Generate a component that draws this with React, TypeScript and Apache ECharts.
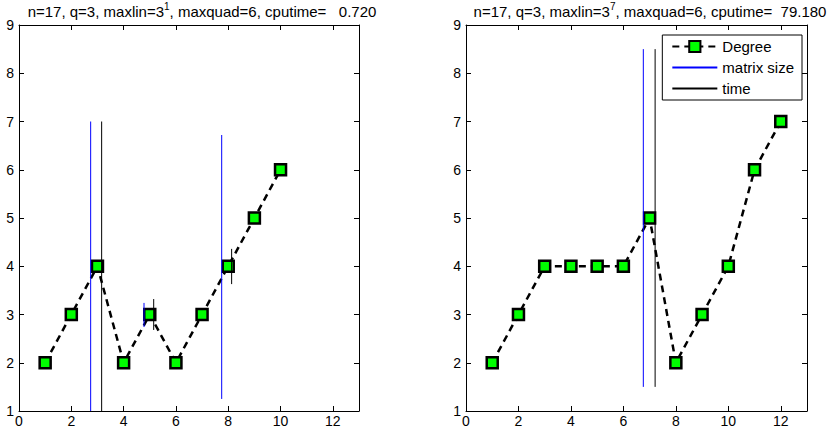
import React, { useEffect, useRef } from "react";
import * as echarts from "echarts";

const leftX = [1, 2, 3, 4, 5, 6, 7, 8, 9, 10];
const leftDegree = [2, 3, 4, 2, 3, 2, 3, 4, 5, 6];
const rightX = [1, 2, 3, 4, 5, 6, 7, 8, 9, 10, 11, 12];
const rightDegree = [2, 3, 4, 4, 4, 4, 5, 2, 3, 4, 6, 7];

// vertical segments: [x, yFrom, yTo]
const leftMatrixSize = [
  [2.74, 1, 7],
  [4.78, 2.74, 3.24],
  [7.75, 1.25, 6.72],
];
const leftTime = [
  [3.16, 1, 7],
  [5.15, 2.68, 3.32],
  [8.13, 3.63, 4.36],
];
const rightMatrixSize = [[6.76, 1.5, 8.5]];
const rightTime = [[7.21, 1.5, 8.5]];

const xTicks = { min: 0, max: 13, interval: 2 };
const yTicks = { min: 1, max: 9, interval: 1 };

const FONT = "'Liberation Sans', Arial, Helvetica, sans-serif";

export default function App() {
  const ref = useRef<HTMLDivElement>(null);
  useEffect(() => {
    if (!ref.current) return;
    const chart = echarts.init(ref.current, undefined, { renderer: "svg" });

    const grids = [
      { left: 19, right: 473, top: 25, bottom: 25 },
      { left: 466, right: 25, top: 25, bottom: 25 },
    ];

    const xAxes: any[] = [];
    const yAxes: any[] = [];
    [0, 1].forEach((g) => {
      ["bottom", "top"].forEach((pos) => {
        xAxes.push({
          type: "value",
          gridIndex: g,
          position: pos,
          ...xTicks,
          axisLine: { show: true, onZero: false, lineStyle: { color: "#000", width: 1 } },
          axisTick: { show: true, inside: true, length: 5, lineStyle: { color: "#000" } },
          axisLabel: {
            show: pos === "bottom",
            color: "#000",
            fontSize: 14,
            fontFamily: FONT,
            margin: 3,
            showMaxLabel: false,
          },
          splitLine: { show: false },
        });
      });
      ["left", "right"].forEach((pos) => {
        yAxes.push({
          type: "value",
          gridIndex: g,
          position: pos,
          ...yTicks,
          axisLine: { show: true, onZero: false, lineStyle: { color: "#000", width: 1 } },
          axisTick: { show: true, inside: true, length: 5, lineStyle: { color: "#000" } },
          axisLabel: {
            show: pos === "left",
            color: "#000",
            fontSize: 14,
            fontFamily: FONT,
            margin: 5,
          },
          splitLine: { show: false },
        });
      });
    });

    const degreeSeries = (xs: number[], ys: number[], idx: number) => ({
      name: "Degree",
      type: "line",
      xAxisIndex: idx,
      yAxisIndex: idx,
      data: xs.map((x, i) => [x, ys[i]]),
      symbol: "rect",
      symbolSize: 11,
      showAllSymbol: true,
      itemStyle: { color: "#00ff00", borderColor: "#000", borderWidth: 2.5 },
      lineStyle: { color: "#000", width: 2.5, type: [7, 5] },
      z: 2,
    });

    const segSeries = (segs: number[][], name: string, color: string, idx: number) =>
      segs.map((s) => ({
        name,
        type: "line",
        xAxisIndex: idx,
        yAxisIndex: idx,
        data: [
          [s[0], s[1]],
          [s[0], s[2]],
        ],
        symbol: "none",
        lineStyle: { color, width: 1 },
        itemStyle: { color },
        z: 3,
      }));

    const titleText = (sup: string, cpu: string) =>
      `{a|n=17, q=3, maxlin=3}{s|${sup}}{a|, maxquad=6, cputime=${cpu}}`;

    const rich = {
      a: { fontSize: 15, fontFamily: FONT, color: "#000", lineHeight: 19 },
      s: { fontSize: 10, fontFamily: FONT, color: "#000", verticalAlign: "top", lineHeight: 19 },
    };

    chart.setOption({
      animation: false,
      backgroundColor: "#fff",
      grid: grids,
      xAxis: xAxes,
      yAxis: yAxes,
      legend: {
        show: true,
        data: [
          { name: "Degree" },
          { name: "matrix size", itemStyle: { opacity: 0 } },
          { name: "time", itemStyle: { opacity: 0 } },
        ],
        orient: "vertical",
        right: 30,
        top: 35,
        padding: [4, 8, 4, 9],
        itemGap: 6,
        itemWidth: 45,
        itemHeight: 14,
        backgroundColor: "#fff",
        borderColor: "#000",
        borderWidth: 1,
        borderRadius: 0,
        textStyle: { color: "#000", fontSize: 15, fontFamily: FONT },
        selectedMode: false,
      },
      graphic: [
        {
          type: "text",
          x: 202,
          y: 11,
          style: {
            text: titleText("1", "   0.720"),
            rich,
            align: "center",
            verticalAlign: "middle",
          },
        },
        {
          type: "text",
          x: 650,
          y: 11,
          style: {
            text: titleText("7", "  79.180"),
            rich,
            align: "center",
            verticalAlign: "middle",
          },
        },
      ],
      series: [
        degreeSeries(leftX, leftDegree, 0),
        ...segSeries(leftMatrixSize, "matrix size", "#0000ff", 0),
        ...segSeries(leftTime, "time", "#000000", 0),
        degreeSeries(rightX, rightDegree, 2),
        ...segSeries(rightMatrixSize, "matrix size", "#0000ff", 2),
        ...segSeries(rightTime, "time", "#000000", 2),
      ],
    });
    return () => chart.dispose();
  }, []);
  return (
    <div
      ref={ref}
      style={{ position: "fixed", left: 0, top: 0, width: 832, height: 436, background: "#fff" }}
    />
  );
}
